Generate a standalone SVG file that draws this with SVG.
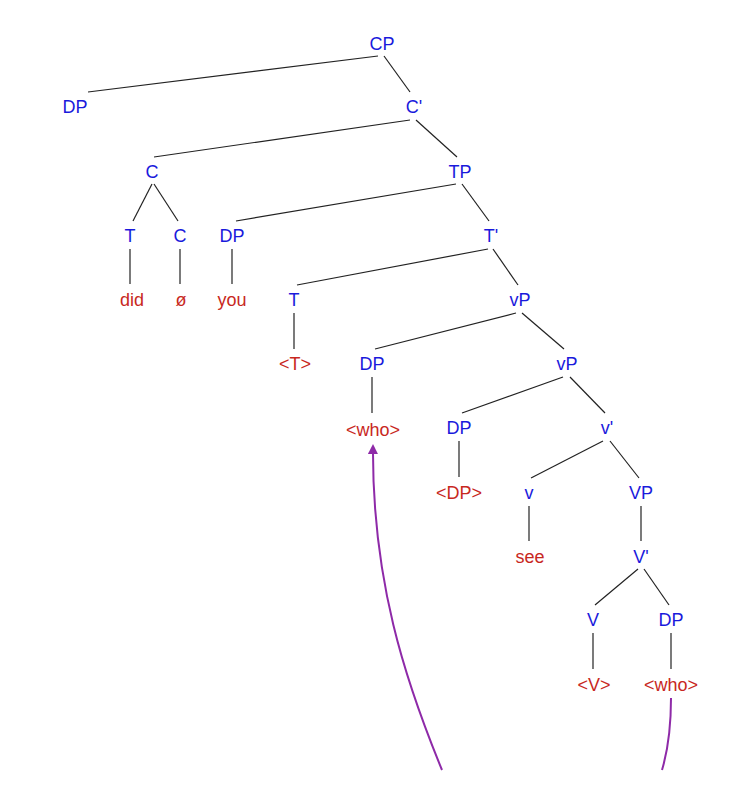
<svg xmlns="http://www.w3.org/2000/svg" width="756" height="804" viewBox="0 0 756 804">
<style>
text{font-family:"Liberation Sans",Arial,sans-serif;font-size:18px;text-anchor:middle}
.c{fill:#1a1adc}.t{fill:#c8281e}
.e line{stroke:#222;stroke-width:1.2}
.m{stroke:#8e2aa8;stroke-width:2;fill:none}
</style>
<defs><marker id="a" markerWidth="10" markerHeight="10" refX="8" refY="5" orient="auto" markerUnits="userSpaceOnUse"><path d="M0,0L10,5L0,10z" fill="#8e2aa8"/></marker></defs>
<rect width="756" height="804" fill="#fff"/>
<g id="edges" class="e">
<line x1="378" y1="56" x2="88" y2="92"/><line x1="384" y1="56" x2="410" y2="92"/>
<line x1="410" y1="120" x2="154" y2="157"/><line x1="416" y1="120" x2="457" y2="157"/>
<line x1="152" y1="184" x2="133" y2="221"/><line x1="154" y1="184" x2="178" y2="221"/>
<line x1="456" y1="184" x2="236" y2="221"/><line x1="462" y1="184" x2="489" y2="221"/>
<line x1="130" y1="249" x2="130" y2="284"/><line x1="180" y1="249" x2="180" y2="284"/><line x1="232" y1="249" x2="232" y2="284"/>
<line x1="488" y1="249" x2="297" y2="285"/><line x1="493" y1="249" x2="518" y2="285"/>
<line x1="294" y1="313" x2="294" y2="349"/>
<line x1="516" y1="313" x2="375" y2="349"/><line x1="522" y1="313" x2="564" y2="349"/>
<line x1="372" y1="377" x2="372" y2="413"/>
<line x1="563" y1="377" x2="462" y2="413"/><line x1="570" y1="377" x2="605" y2="413"/>
<line x1="459" y1="441" x2="459" y2="477"/>
<line x1="603" y1="441" x2="531" y2="478"/><line x1="610" y1="441" x2="639" y2="478"/>
<line x1="529" y1="506" x2="529" y2="541"/><line x1="641" y1="506" x2="641" y2="541"/>
<line x1="638" y1="569" x2="595" y2="605"/><line x1="644" y1="569" x2="669" y2="605"/>
<line x1="593" y1="633" x2="593" y2="669"/><line x1="671" y1="633" x2="671" y2="669"/>
<path class="m" d="M671,698 C671,730 668,750 662,770"/>
<path class="m" d="M442,770 C405,680 372,580 373,446" marker-end="url(#a)"/>
</g>
<g id="CP"><text class="c" x="382" y="50">CP</text></g>
<g id="DP1"><text class="c" x="75" y="113">DP</text></g>
<g id="Cbar"><text class="c" x="414" y="113">C'</text></g>
<g id="C"><text class="c" x="152" y="178">C</text></g>
<g id="TP"><text class="c" x="460" y="178">TP</text></g>
<g id="T1"><text class="c" x="130" y="242">T</text></g>
<g id="C2"><text class="c" x="180" y="242">C</text></g>
<g id="DP2"><text class="c" x="232" y="242">DP</text></g>
<g id="Tbar"><text class="c" x="491" y="242">T'</text></g>
<g id="did"><text class="t" x="132" y="306">did</text></g>
<g id="null"><text class="t" x="181" y="306">ø</text></g>
<g id="you"><text class="t" x="232" y="306">you</text></g>
<g id="T2"><text class="c" x="294" y="306">T</text></g>
<g id="vP1"><text class="c" x="520" y="306">vP</text></g>
<g id="Ttr"><text class="t" x="295" y="370">&lt;T&gt;</text></g>
<g id="DP3"><text class="c" x="372" y="370">DP</text></g>
<g id="vP2"><text class="c" x="567" y="370">vP</text></g>
<g id="who1"><text class="t" x="373" y="436">&lt;who&gt;</text></g>
<g id="DP4"><text class="c" x="459" y="434">DP</text></g>
<g id="vbar"><text class="c" x="607" y="434">v'</text></g>
<g id="DPtr"><text class="t" x="459" y="499">&lt;DP&gt;</text></g>
<g id="v"><text class="c" x="529" y="499">v</text></g>
<g id="VP"><text class="c" x="641" y="499">VP</text></g>
<g id="see"><text class="t" x="530" y="563">see</text></g>
<g id="Vbar"><text class="c" x="641" y="563">V'</text></g>
<g id="V"><text class="c" x="593" y="626">V</text></g>
<g id="DP5"><text class="c" x="671" y="626">DP</text></g>
<g id="Vtr"><text class="t" x="594" y="691">&lt;V&gt;</text></g>
<g id="who2"><text class="t" x="671" y="691">&lt;who&gt;</text></g>
</svg>
